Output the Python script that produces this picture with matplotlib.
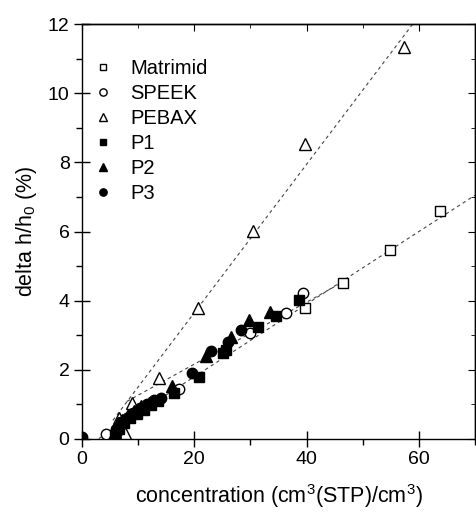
import matplotlib
matplotlib.use("Agg")
import matplotlib.pyplot as plt
import numpy as np
from matplotlib.ticker import MultipleLocator

plt.rcParams['font.family'] = ['Liberation Sans', 'DejaVu Sans']
plt.rcParams['mathtext.default'] = 'regular'

# ---- data ----
matrimid_x = [39.8, 46.5, 54.9, 63.7]
matrimid_y = [3.78, 4.52, 5.47, 6.60]

speek_x = [4.3, 17.2, 29.9, 36.4, 39.4]
speek_y = [0.14, 1.44, 3.07, 3.65, 4.23]

pebax_x = [6.5, 7.7, 8.9, 13.75, 20.7, 30.5, 39.8, 57.3]
pebax_y = [0.60, 0.17, 1.05, 1.75, 3.78, 6.01, 8.52, 11.34]

p1_x = [5.9, 6.5, 7.5, 8.5, 9.8, 11.0, 12.2, 13.6, 16.3, 20.9, 25.1, 25.6, 31.4, 34.6, 38.6]
p1_y = [0.12, 0.30, 0.45, 0.60, 0.72, 0.85, 0.98, 1.10, 1.32, 1.80, 2.48, 2.57, 3.25, 3.56, 4.02]

p2_x = [5.8, 6.4, 7.2, 8.2, 9.2, 10.5, 12.0, 16.0, 22.1, 26.6, 29.8, 33.4]
p2_y = [0.20, 0.45, 0.55, 0.70, 0.82, 0.95, 1.05, 1.53, 2.40, 2.96, 3.44, 3.68]

p3_x = [0.0, 6.0, 7.0, 8.0, 9.0, 10.3, 11.5, 12.8, 14.0, 19.5, 22.9, 26.0, 28.4]
p3_y = [0.05, 0.30, 0.50, 0.62, 0.75, 0.90, 1.02, 1.12, 1.18, 1.90, 2.55, 2.81, 3.15]

# fit lines: (x_start, x_end, slope, intercept)
fit_pebax = (5.5, 60.0, 0.2146, -0.64)
fit_matrimid = (3.0, 70.0, 0.105, -0.30)
fit_speek = (8.0, 46.5, 0.0897, 0.37)

fig = plt.figure(figsize=(4.76, 5.12), dpi=100)
ax = fig.add_axes([0.1723, 0.1426, 0.8257, 0.8104])

for (x0, x1, m, b) in (fit_pebax, fit_matrimid, fit_speek):
    xs = np.array([x0, x1])
    ax.plot(xs, m * xs + b, linestyle=(0, (3, 3)), color='#444444', lw=0.8, zorder=1)

ms = 7
ax.plot(matrimid_x, matrimid_y, 's', ms=ms, mfc='white', mec='black', mew=1.0, ls='none', label='Matrimid', zorder=3)
ax.plot(speek_x, speek_y, 'o', ms=ms + 0.5, mfc='white', mec='black', mew=1.0, ls='none', label='SPEEK', zorder=3)
ax.plot(pebax_x, pebax_y, '^', ms=ms + 1.5, mfc='white', mec='black', mew=1.0, ls='none', label='PEBAX', zorder=3)
ax.plot(p1_x, p1_y, 's', ms=ms, color='black', ls='none', label='P1', zorder=3)
ax.plot(p2_x, p2_y, '^', ms=ms + 1.5, color='black', ls='none', label='P2', zorder=3)
ax.plot(p3_x, p3_y, 'o', ms=ms + 0.5, color='black', ls='none', label='P3', zorder=3)

ax.set_xlim(0, 70)
ax.set_ylim(0, 12)
ax.xaxis.set_major_locator(MultipleLocator(20))
ax.xaxis.set_minor_locator(MultipleLocator(10))
ax.yaxis.set_major_locator(MultipleLocator(2))
ax.yaxis.set_minor_locator(MultipleLocator(1))

ax.tick_params(which='major', direction='inout', length=12, width=1.0, labelsize=14, pad=3)
ax.tick_params(which='minor', direction='out', length=4, width=1.0)
ax.tick_params(axis='x', which='both', top=False)
ax.tick_params(axis='y', which='both', right=False)
for s in ax.spines.values():
    s.set_linewidth(1.0)

# inward ticks on top and right
secx = ax.secondary_xaxis('top')
secx.xaxis.set_major_locator(MultipleLocator(20))
secx.xaxis.set_minor_locator(MultipleLocator(10))
secx.tick_params(which='major', direction='in', length=5, labeltop=False)
secx.tick_params(which='minor', direction='in', length=3)
secx.spines['top'].set_linewidth(1.0)
secy = ax.secondary_yaxis('right')
secy.yaxis.set_major_locator(MultipleLocator(2))
secy.yaxis.set_minor_locator(MultipleLocator(1))
secy.tick_params(which='major', direction='in', length=5, labelright=False)
secy.tick_params(which='minor', direction='in', length=3)
secy.spines['right'].set_linewidth(1.0)

ax.set_xlabel('concentration (cm$^3$(STP)/cm$^3$)', fontsize=15.5, labelpad=10)
ax.set_ylabel('delta h/h$_0$ (%)', fontsize=15.5, labelpad=6)

leg = ax.legend(loc='upper left', bbox_to_anchor=(0.008, 0.935), frameon=False, fontsize=14.5,
                handlelength=1.0, handletextpad=0.85, labelspacing=0.3, markerscale=0.7,
                borderaxespad=0.0)

fig.savefig('out.png', dpi=100)
